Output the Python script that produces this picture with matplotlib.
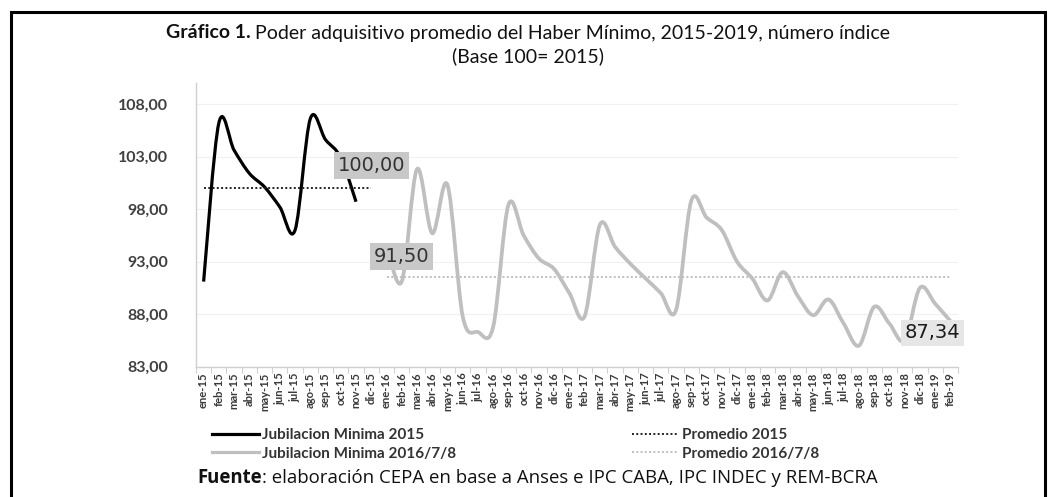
import numpy as np
import matplotlib
matplotlib.use("Agg")
import matplotlib.pyplot as plt
from matplotlib.path import Path
from matplotlib.patches import PathPatch, Rectangle
from matplotlib.lines import Line2D
from matplotlib.offsetbox import TextArea, HPacker, AnchoredOffsetbox

# months on the category axis, ene-15 .. feb-19
meses = ["ene", "feb", "mar", "abr", "may", "jun", "jul", "ago", "sep", "oct", "nov", "dic"]
etiquetas = [f"{m}-{a}" for a in ["15", "16", "17", "18"] for m in meses] + ["ene-19", "feb-19"]

# Jubilacion Minima 2015 (ene-15 .. nov-15)
jub_2015 = [91.1, 106.2, 103.6, 101.4, 100.1, 98.2, 96.0, 106.6, 104.6, 102.9, 98.7]
inicio_2015 = 0

# Jubilacion Minima 2016/7/8 (ene-16 .. feb-19)
jub_2016 = [94.7, 91.1, 101.8, 95.7, 100.3, 87.8, 86.3, 86.8, 98.4, 95.5, 93.3, 92.3,
            90.0, 87.8, 96.5, 94.4, 92.8, 91.4, 90.0, 88.4, 98.8, 97.2, 96.0, 93.0,
            91.4, 89.3, 92.0, 89.7, 87.9, 89.4, 87.1, 85.0, 88.7, 87.1, 85.5, 90.5,
            89.0, 87.34]
inicio_2016 = 12

# averages
prom_2015 = 100.00
prom_2016 = 91.50
n_prom_2015 = 12

NEGRO = "#000000"
GRIS = "#bfbfbf"


def curva_suave(xs, ys):
    # Excel-like smoothed line as cubic bezier segments
    p = np.column_stack([xs, ys]).astype(float)
    n = len(p)
    verts = [p[0]]
    codes = [Path.MOVETO]
    for i in range(n - 1):
        p0 = p[max(i - 1, 0)]
        p1 = p[i]
        p2 = p[i + 1]
        p3 = p[min(i + 2, n - 1)]
        verts += [p1 + (p2 - p0) / 6.0, p2 - (p3 - p1) / 6.0, p2]
        codes += [Path.CURVE4] * 3
    return Path(verts, codes)


fig = plt.figure(figsize=(10.57, 4.97), dpi=100)
ax = fig.add_axes([196 / 1057, 130.3 / 497, 762 / 1057, 283.7 / 497])

x15 = np.arange(inicio_2015, inicio_2015 + len(jub_2015))
x16 = np.arange(inicio_2016, inicio_2016 + len(jub_2016))

ax.add_patch(PathPatch(curva_suave(x15, jub_2015), fill=False, ec=NEGRO, lw=2.3,
                       capstyle="butt", joinstyle="round", zorder=4))
ax.add_patch(PathPatch(curva_suave(x16, jub_2016), fill=False, ec=GRIS, lw=2.7,
                       capstyle="butt", joinstyle="round", zorder=3))

xp15 = np.arange(0, n_prom_2015)
ax.plot(xp15, [prom_2015] * len(xp15), color="#222222", lw=1.4, ls=(0, (1, 1.2)), zorder=5)
ax.plot(x16, [prom_2016] * len(x16), color=GRIS, lw=1.4, ls=(0, (1, 1.2)), zorder=2)

# data labels
caja_osc = dict(boxstyle="square,pad=0.2", fc="#c8c8c8", ec="none")
caja_cla = dict(boxstyle="square,pad=0.2", fc="#e6e6e6", ec="none")
ax.annotate("100,00", xy=(xp15[-1], prom_2015), xytext=(0, 16), textcoords="offset points",
            ha="center", va="center", fontsize=14, family="DejaVu Sans", color="#333333",
            bbox=caja_osc, zorder=6)
ax.annotate("91,50", xy=(x16[0], prom_2016), xytext=(11, 15), textcoords="offset points",
            ha="center", va="center", fontsize=14, family="DejaVu Sans", color="#333333",
            bbox=caja_osc, zorder=6)
ax.annotate("87,34", xy=(x16[-1], jub_2016[-1]), xytext=(-13, -8.5), textcoords="offset points",
            ha="center", va="center", fontsize=14, family="DejaVu Sans",
            color="#1a1a1a", bbox=caja_cla, zorder=6)

ax.set_xlim(-0.5, len(etiquetas) - 0.5)
ax.set_ylim(83, 110)
ax.set_yticks([83, 88, 93, 98, 103, 108])
ax.set_yticklabels([f"{v:.2f}".replace(".", ",") for v in [83, 88, 93, 98, 103, 108]],
                   family="Lato", fontweight="bold", fontsize=11.5, color="#404040")
ax.set_xticks(np.arange(len(etiquetas)))
ax.set_xticklabels(etiquetas, rotation=90, family="Lato", fontweight="bold", fontsize=8.1,
                   color="#3a3a3a")
ax.set_xticks(np.arange(len(etiquetas) + 1) - 0.5, minor=True)
ax.tick_params(axis="x", which="major", length=0, pad=4)
ax.tick_params(axis="x", which="minor", length=4, color="#d0d0d0", width=0.8)
ax.tick_params(axis="y", length=0, pad=20)
ax.grid(axis="y", color="#f0f0f0", lw=0.8)
ax.set_axisbelow(True)
for s in ["top", "right"]:
    ax.spines[s].set_visible(False)
for s in ["left", "bottom"]:
    ax.spines[s].set_color("#d0d0d0")
    ax.spines[s].set_linewidth(1.0)

# legend in two columns
ley_kw = dict(frameon=False, loc="upper left", bbox_transform=fig.transFigure,
              prop=dict(family="Lato", weight="bold", size=11), labelcolor="#333333",
              handlelength=3.1, handletextpad=0.2, labelspacing=0.3, borderpad=0, borderaxespad=0)
h1 = [Line2D([], [], color=NEGRO, lw=2.3), Line2D([], [], color=GRIS, lw=2.3)]
h2 = [Line2D([], [], color="#222222", lw=1.4, ls=(0, (1, 1.2))),
      Line2D([], [], color=GRIS, lw=1.4, ls=(0, (1, 1.2)))]
ley1 = ax.legend(h1, ["Jubilacion Minima 2015", "Jubilacion Minima 2016/7/8"],
                 bbox_to_anchor=(212 / 1057, 1 - 428 / 497), **ley_kw)
ax.add_artist(ley1)
ax.legend(h2, ["Promedio 2015", "Promedio 2016/7/8"],
          bbox_to_anchor=(632 / 1057, 1 - 428 / 497), **ley_kw)

# title
t1 = HPacker(children=[TextArea("Gráfico 1.", textprops=dict(family="Lato", weight="bold", size=14, color="#111111")),
                       TextArea(" Poder adquisitivo promedio del Haber Mínimo, 2015-2019, número índice",
                                textprops=dict(family="Lato", size=14, color="#111111"))],
             pad=0, sep=0, align="baseline")
fig.add_artist(AnchoredOffsetbox(loc="center", child=t1, pad=0, borderpad=0, frameon=False,
                                 bbox_to_anchor=(528 / 1057, 1 - 33 / 497), bbox_transform=fig.transFigure))
fig.text(528 / 1057, 1 - 56 / 497, "(Base 100= 2015)", ha="center", va="center",
         family="Lato", size=14, color="#111111")

# source
f1 = HPacker(children=[TextArea("Fuente", textprops=dict(family="Open Sans", weight="bold", size=13.4, color="#111111")),
                       TextArea(": elaboración CEPA en base a Anses e IPC CABA, IPC INDEC y REM-BCRA",
                                textprops=dict(family="Open Sans", size=13.4, color="#111111"))],
             pad=0, sep=0, align="baseline")
fig.add_artist(AnchoredOffsetbox(loc="center left", child=f1, pad=0, borderpad=0, frameon=False,
                                 bbox_to_anchor=(197 / 1057, 1 - 478 / 497), bbox_transform=fig.transFigure))

# frame around the figure
fig.add_artist(Rectangle((11 / 1057, -0.05), (1045 - 11) / 1057, 1.05 - 12 / 497,
                         transform=fig.transFigure, fill=False, ec="black", lw=2.2))

fig.savefig("out.png", dpi=100)
